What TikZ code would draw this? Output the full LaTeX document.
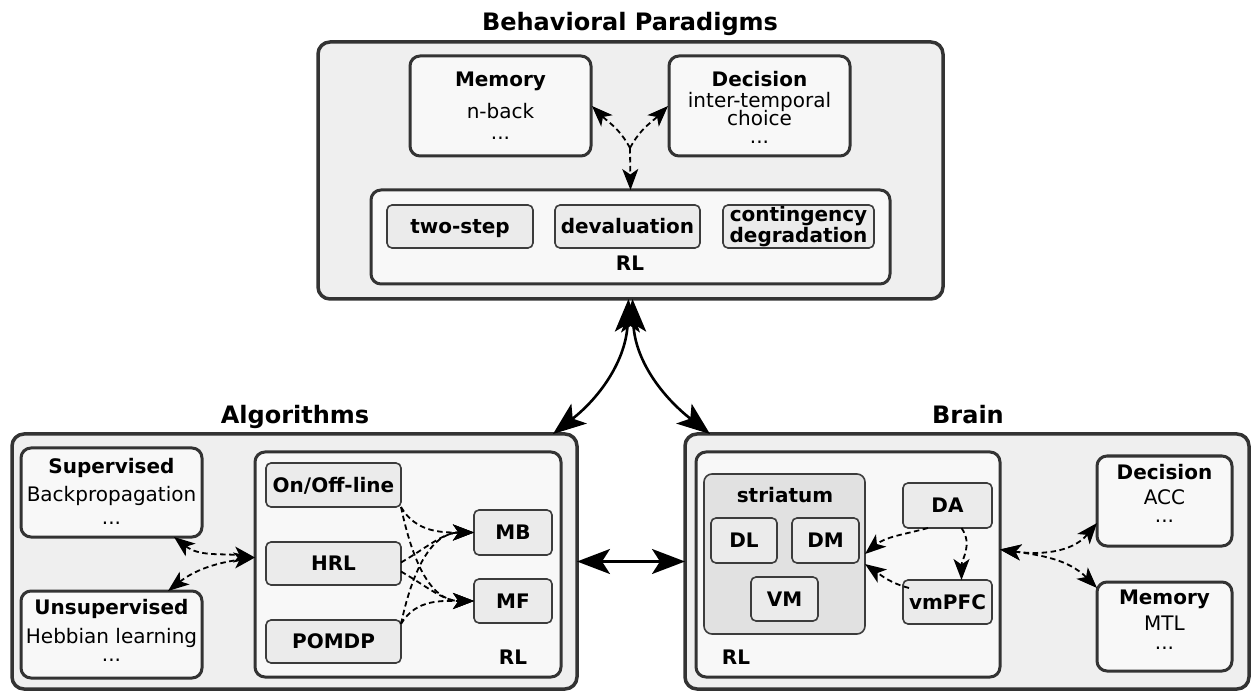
\documentclass[tikz,border=0pt]{standalone}
\usepackage{fontspec}
\setmainfont{DejaVu Sans}
\usetikzlibrary{arrows.meta,calc}
\definecolor{edge}{HTML}{333333}
\definecolor{itemedge}{HTML}{3C3C3C}
\definecolor{outerfill}{HTML}{EFEFEF}
\definecolor{innerfill}{HTML}{F8F8F8}
\definecolor{itemfill}{HTML}{EBEBEB}
\definecolor{strfill}{HTML}{E1E1E1}
\tikzset{
  outerbox/.style={draw=edge, fill=outerfill, line width=3.5pt, rounded corners=12pt, inner sep=0pt, outer sep=0pt},
  midbox/.style={draw=edge, fill=innerfill, line width=3pt, rounded corners=10pt, inner sep=0pt, outer sep=0pt},
  strbox/.style={draw=itemedge, fill=strfill, line width=1.6pt, rounded corners=8pt, inner sep=0pt, outer sep=0pt},
  item/.style={draw=itemedge, fill=itemfill, line width=1.6pt, rounded corners=5pt, inner sep=0pt, outer sep=0pt,
    font=\fontsize{20}{19}\selectfont\bfseries, align=center},
  itemone/.style={item, text height=14.5pt, text depth=0pt},
  ttl/.style={font=\fontsize{24}{28}\selectfont\bfseries, anchor=base, inner sep=0pt},
  hd/.style={font=\fontsize{20}{19}\selectfont\bfseries, anchor=base, inner sep=0pt},
  tx/.style={font=\fontsize{20}{19}\selectfont, anchor=base, inner sep=0pt},
  dar/.style={draw=black, line width=1.8pt, dash pattern=on 5.5pt off 3.5pt, -{Stealth[length=21pt,width=16pt,inset=5.5pt]}},
  dbl/.style={draw=black, line width=1.8pt, dash pattern=on 5.5pt off 3.5pt, {Stealth[length=21pt,width=16pt,inset=5.5pt]}-{Stealth[length=21pt,width=16pt,inset=5.5pt]}},
  big/.style={draw=black, line width=2.6pt, {Stealth[length=33pt,width=25pt,inset=8pt]}-{Stealth[length=33pt,width=25pt,inset=8pt]}}
}
\newcommand{\mkbox}[7]{\node[#1, minimum width={#4-#2}, minimum height={#5-#3}] (#6) at ({(#2+#4)/2},{-(#3+#5)/2}) {#7};}
\begin{document}
\begin{tikzpicture}[x=1pt,y=1pt]
\useasboundingbox (0,0) rectangle (1256,-692);

% ---------------- Behavioral paradigms ----------------
\node[ttl] (behT) at (630,-31) {Behavioral Paradigms};
\mkbox{outerbox}{318}{42}{943}{299}{beh}{}
\mkbox{midbox}{410}{56}{591}{156}{mem}{}
\node[hd] (memH) at (500.5,-87) {Memory};
\node[tx] (memT) at (500.5,-119) {n-back};
\node[tx] (memD) at (500.5,-140) {...};
\mkbox{midbox}{669}{56}{850}{156}{dec}{}
\node[hd] (decH) at (759.5,-87) {Decision};
\node[tx] (decT1) at (759.5,-108) {inter-temporal};
\node[tx] (decT2) at (759.5,-126) {choice};
\node[tx] (decD) at (759.5,-144) {...};
\mkbox{midbox}{371}{190}{890}{284}{rlt}{}
\mkbox{itemone}{387}{205}{533}{248}{twostep}{two-step}
\mkbox{itemone}{555}{205}{700}{248}{deval}{devaluation}
\mkbox{item}{723}{205}{874}{248}{cont}{contingency\\degradation}
\node[hd] (rltL) at (630,-271) {RL};

\coordinate (j1) at (630,-148);
\draw[dar] (j1) -- (rlt.north);
\draw[dar] (j1) to[out=118,in=-45] ($(mem.east)+(1,0)$);
\draw[dar] (j1) to[out=62,in=-135] ($(dec.west)+(-1,0)$);

% ---------------- Algorithms ----------------
\node[ttl] (algT) at (295,-423.5) {Algorithms};
\mkbox{outerbox}{12}{434}{577}{689}{alg}{}
\mkbox{midbox}{21}{448}{202}{537}{sup}{}
\node[hd] (supH) at (111.5,-474) {Supervised};
\node[tx] (supT) at (111.5,-501) {Backpropagation};
\node[tx] (supD) at (111.5,-524) {...};
\mkbox{midbox}{21}{591}{202}{678}{uns}{}
\node[hd] (unsH) at (111.5,-614) {Unsupervised};
\node[tx] (unsT) at (111.5,-643) {Hebbian learning};
\node[tx] (unsD) at (111.5,-661) {...};
\mkbox{midbox}{255}{452}{561}{677}{alrl}{}
\node[hd] (alrlL) at (513,-664) {RL};
\mkbox{itemone}{266}{463}{401}{507}{onoff}{On/Off-line}
\mkbox{itemone}{266}{542}{401}{585}{hrl}{HRL}
\mkbox{itemone}{266}{620}{401}{663}{pomdp}{POMDP}
\mkbox{itemone}{474}{510}{552}{555}{mb}{MB}
\mkbox{itemone}{474}{579}{552}{623}{mf}{MF}

\draw[dbl] ($(sup.south east)+(-28,0)$) to[out=-38,in=172] ($(alrl.west)+(0,7)$);
\draw[dbl] ($(uns.north east)+(-34,0)$) to[out=38,in=188] ($(alrl.west)+(0,7)$);

\draw[dar] (onoff.south east) to[out=-60,in=180] (mb.west);
\draw[dar] (onoff.south east) to[out=-78,in=180] (mf.west);
\draw[dar] ($(hrl.east)+(0,1)$) to[out=30,in=180] (mb.west);
\draw[dar] ($(hrl.east)+(0,-8)$) to[out=-30,in=180] (mf.west);
\draw[dar] ($(pomdp.north east)+(0,-4)$) to[out=78,in=180] (mb.west);
\draw[dar] ($(pomdp.north east)+(0,-4)$) to[out=60,in=180] (mf.west);

% ---------------- Brain ----------------
\node[ttl] (brT) at (968,-423.5) {Brain};
\mkbox{outerbox}{685}{434}{1249}{689}{brain}{}
\mkbox{midbox}{696}{452}{1000}{677}{brrl}{}
\node[hd] (brrlL) at (736,-664) {RL};
\mkbox{strbox}{704}{474}{865}{634}{str}{}
\node[hd] (strH) at (785,-502) {striatum};
\mkbox{itemone}{711}{518}{777}{563}{dl}{DL}
\mkbox{itemone}{792}{518}{859}{563}{dm}{DM}
\mkbox{itemone}{751}{577}{818}{621}{vm}{VM}
\mkbox{itemone}{903}{483}{992}{528}{da}{DA}
\mkbox{itemone}{903}{580}{992}{624}{vmpfc}{vmPFC}
\mkbox{midbox}{1097}{456}{1232}{546}{bdec}{}
\node[hd] (bdecH) at (1164.5,-479) {Decision};
\node[tx] (bdecT) at (1164.5,-504) {ACC};
\node[tx] (bdecD) at (1164.5,-522) {...};
\mkbox{midbox}{1097}{582}{1232}{671}{bmem}{}
\node[hd] (bmemH) at (1164.5,-604) {Memory};
\node[tx] (bmemT) at (1164.5,-630) {MTL};
\node[tx] (bmemD) at (1164.5,-649) {...};

\draw[dar] ($(da.south west)+(25,0)$) to[out=195,in=40] (str.east);
\draw[dar] ($(da.south)+(14,0)$) to[out=-55,in=90] ($(vmpfc.north)+(14,0)$);
\draw[dar] ($(vmpfc.north west)+(6,-8)$) to[out=165,in=-35] ($(str.east)+(0,-10)$);

\draw[dbl] ($(brrl.east)+(0,15)$) to[out=-8,in=-130] ($(bdec.south west)+(0,23)$);
\draw[dbl] ($(brrl.east)+(0,15)$) to[out=-8,in=135] ($(bmem.north west)+(0,-6)$);

% ---------------- big arrows ----------------
\draw[big] ($(alg.north east)+(-24,0)$) to[out=38,in=-92] ($(beh.south)+(-2,0)$);
\draw[big] ($(brain.north west)+(25,0)$) to[out=142,in=-88] ($(beh.south)+(2,0)$);
\draw[big] (alg.east) -- (brain.west);
\end{tikzpicture}
\end{document}
